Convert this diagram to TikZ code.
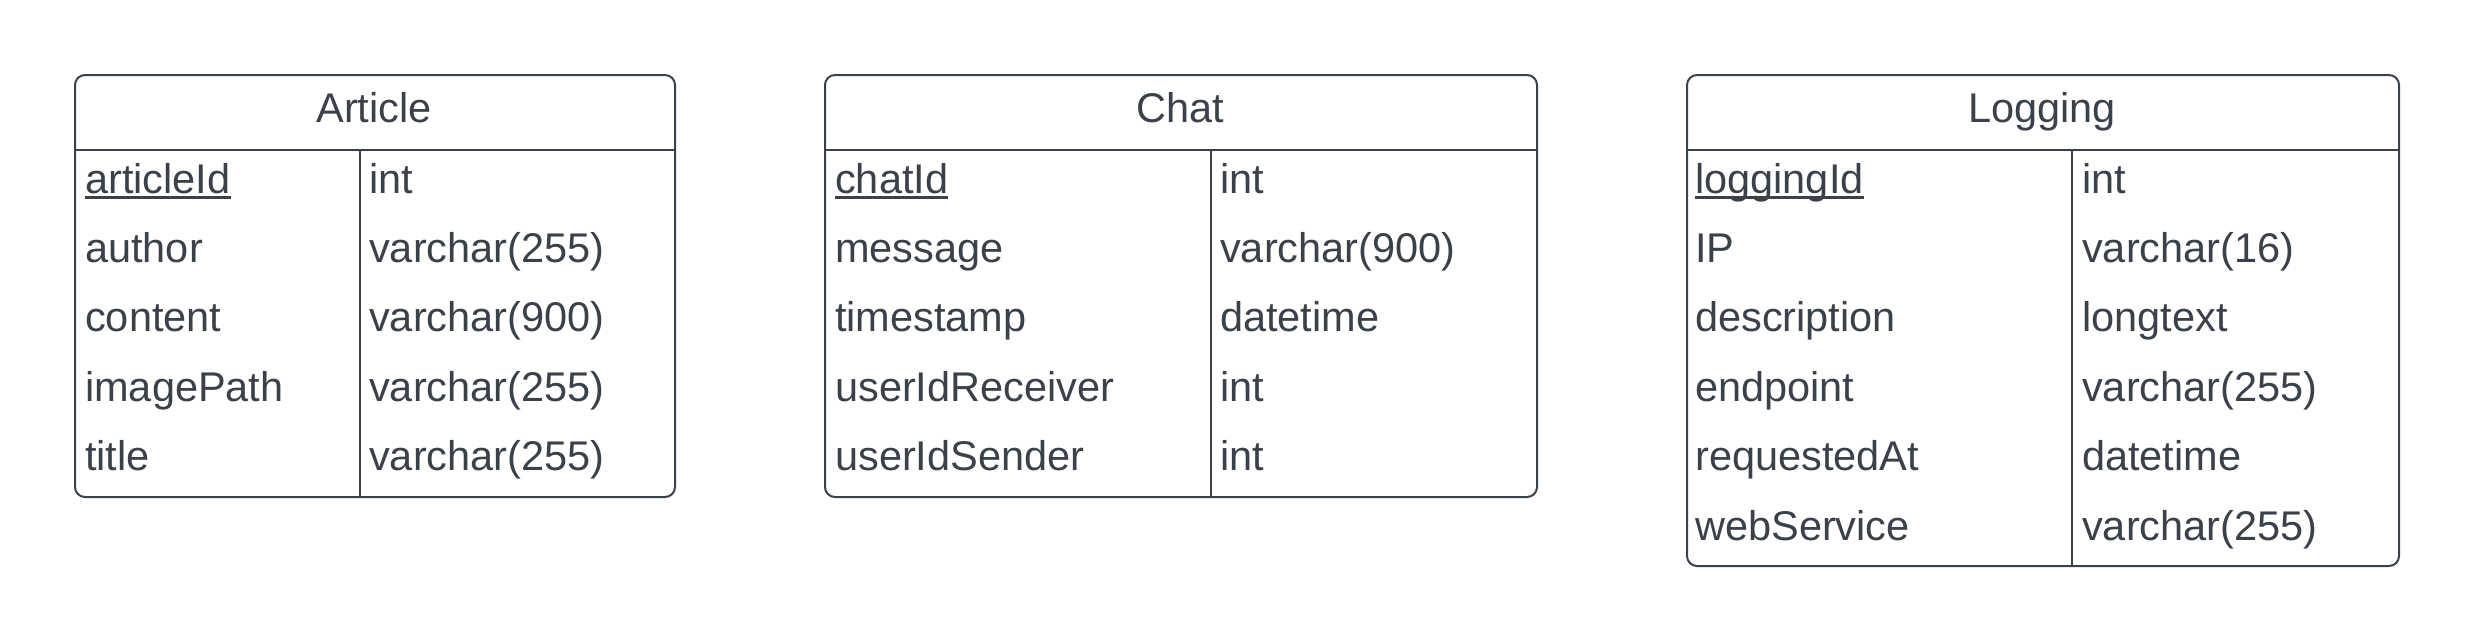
\documentclass[tikz,border=0pt]{standalone}
\usepackage{fontspec}
\setmainfont{Liberation Sans}
\definecolor{ink}{RGB}{58,65,74}
\newcommand\keyul[1]{\setbox0\hbox{#1}\rlap{\rule[-5.5pt]{\wd0}{2.6pt}}\box0}
\tikzset{
  tablebox/.style={draw=ink, line width=2pt, rounded corners=10pt, anchor=north west, inner sep=0pt},
  rule/.style={draw=ink, line width=2pt},
  txt/.style={text=ink, inner sep=0pt, anchor=base west, font=\fontsize{41.5}{50}\selectfont},
  title/.style={text=ink, inner sep=0pt, anchor=base, font=\fontsize{41.5}{50}\selectfont}
}
\begin{document}
\begin{tikzpicture}[x=1pt,y=-1pt]
\useasboundingbox (0,0) rectangle (2475,641);
% Article
\node[tablebox, minimum width=600pt, minimum height=422pt] (art) at (74,74) {};
\coordinate (artHL) at (74,150); \coordinate (artHR) at (674,150);
\coordinate (artDT) at (360,150); \coordinate (artDB) at (360,496);
\draw[rule] (artHL) -- (artHR);
\draw[rule] (artDT) -- (artDB);
\node[title] (artT) at (374,122) {Article};
\node[txt] (a1) at (85,193) {\keyul{articleId}};
\node[txt] (a2) at (85,262.4) {author};
\node[txt] (a3) at (85,331.8) {content};
\node[txt] (a4) at (85,401.2) {imagePath};
\node[txt] (a5) at (85,470.6) {title};
\node[txt] (at1) at (369,193) {int};
\node[txt] (at2) at (369,262.4) {varchar(255)};
\node[txt] (at3) at (369,331.8) {varchar(900)};
\node[txt] (at4) at (369,401.2) {varchar(255)};
\node[txt] (at5) at (369,470.6) {varchar(255)};
% Chat
\node[tablebox, minimum width=712pt, minimum height=422pt] (chat) at (824,74) {};
\coordinate (chHL) at (824,150); \coordinate (chHR) at (1536,150);
\coordinate (chDT) at (1211,150); \coordinate (chDB) at (1211,496);
\draw[rule] (chHL) -- (chHR);
\draw[rule] (chDT) -- (chDB);
\node[title] (chT) at (1180,122) {Chat};
\node[txt] (c1) at (835,193) {\keyul{chatId}};
\node[txt] (c2) at (835,262.4) {message};
\node[txt] (c3) at (835,331.8) {timestamp};
\node[txt] (c4) at (835,401.2) {userIdReceiver};
\node[txt] (c5) at (835,470.6) {userIdSender};
\node[txt] (ct1) at (1220,193) {int};
\node[txt] (ct2) at (1220,262.4) {varchar(900)};
\node[txt] (ct3) at (1220,331.8) {datetime};
\node[txt] (ct4) at (1220,401.2) {int};
\node[txt] (ct5) at (1220,470.6) {int};
% Logging
\node[tablebox, minimum width=712pt, minimum height=491pt] (log) at (1686,74) {};
\coordinate (lgHL) at (1686,150); \coordinate (lgHR) at (2398,150);
\coordinate (lgDT) at (2072,150); \coordinate (lgDB) at (2072,565);
\draw[rule] (lgHL) -- (lgHR);
\draw[rule] (lgDT) -- (lgDB);
\node[title] (lgT) at (2042,122) {Logging};
\node[txt] (l1) at (1695,193) {\keyul{loggingId}};
\node[txt] (l2) at (1695,262.4) {IP};
\node[txt] (l3) at (1695,331.8) {description};
\node[txt] (l4) at (1695,401.2) {endpoint};
\node[txt] (l5) at (1695,470.6) {requestedAt};
\node[txt] (l6) at (1695,540) {webService};
\node[txt] (lt1) at (2082,193) {int};
\node[txt] (lt2) at (2082,262.4) {varchar(16)};
\node[txt] (lt3) at (2082,331.8) {longtext};
\node[txt] (lt4) at (2082,401.2) {varchar(255)};
\node[txt] (lt5) at (2082,470.6) {datetime};
\node[txt] (lt6) at (2082,540) {varchar(255)};
\end{tikzpicture}
\end{document}
